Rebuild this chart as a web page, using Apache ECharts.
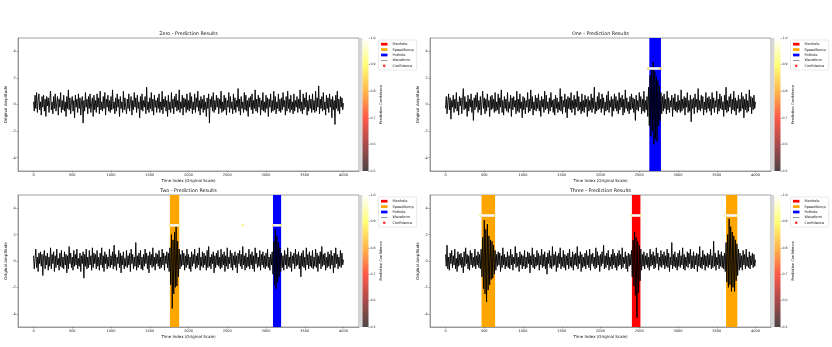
<!DOCTYPE html>
<html><head><meta charset="utf-8">
<script src="https://cdn.jsdelivr.net/npm/echarts@6/dist/echarts.min.js"></script>
<style>html,body{margin:0;padding:0;background:#fff}#c{width:832px;height:347px}</style>
</head><body><div id="c"></div><script>
const panelNames = ['Zero','One','Two','Three'];
const sampleStep = 10;
const wave0 = [
0.2,-0.5,0.7,-0.3,0.9,-0.6,0.3,0.8,-0.4,0.2,-0.8,0.6,-0.2,0.7,-0.5,0.4,-0.9,0.6,-0.1,0.5,
-0.6,0.3,1.0,-0.4,0.2,-0.7,0.6,-0.3,0.8,-0.5,0.1,0.6,-0.8,0.4,-0.2,0.9,-0.6,0.3,-0.4,0.7,
-0.5,0.2,-0.9,0.6,-0.3,1.1,-0.4,0.5,-0.7,0.2,0.6,-0.5,0.3,-1.0,0.7,-0.2,0.4,-0.6,0.8,-0.3,
0.5,-0.8,0.2,0.6,-1.4,0.3,-0.5,0.9,-0.2,0.4,-0.7,0.6,-0.3,0.8,-0.6,0.1,0.5,-0.9,0.7,-0.4,
0.3,-0.6,0.8,-0.2,0.5,-0.7,1.0,-0.4,0.2,-0.5,0.6,-0.3,0.9,-0.8,0.4,-0.2,0.7,-0.5,0.3,-0.6,
0.6,-0.4,1.1,-0.3,0.2,-0.7,0.5,-0.5,0.8,-0.2,0.4,-0.9,0.6,-0.3,0.2,-0.6,1.0,-0.4,0.5,-0.2,
-0.7,0.4,-0.3,0.8,-0.5,0.2,0.6,-0.8,0.3,-0.4,0.9,-0.2,0.5,-0.6,0.7,-0.3,0.2,-1.0,0.6,-0.4,
0.8,-0.5,0.3,-0.2,0.6,-0.7,1.3,-0.4,0.2,-0.6,0.5,-0.3,0.9,-0.5,0.4,-0.8,0.7,-0.2,0.3,-0.6,
0.5,-0.3,0.8,-0.6,0.2,-0.4,1.0,-0.7,0.4,-0.2,0.6,-0.5,0.3,-0.9,0.7,-0.4,0.2,-0.6,0.9,-0.3,
0.4,-0.7,0.6,-0.2,0.8,-0.5,0.3,-0.4,1.1,-0.6,0.2,-0.3,0.7,-0.8,0.5,-0.2,0.4,-0.6,0.8,-0.4,
0.3,-0.5,0.9,-0.3,0.6,-0.7,0.2,-0.4,0.8,-0.6,0.5,-0.2,1.0,-0.5,0.3,-0.8,0.6,-0.3,0.4,-0.6,
0.7,-0.4,0.2,-0.9,0.5,-0.3,0.8,-1.4,0.4,-0.2,0.6,-0.5,0.9,-0.6,0.3,-0.4,0.7,-0.2,0.5,-0.7,
0.4,-0.3,1.0,-0.6,0.2,-0.5,0.7,-0.4,0.5,-0.8,0.3,-0.2,0.9,-0.6,0.6,-0.3,0.2,-0.7,0.8,-0.4,
0.5,-0.6,0.3,-0.2,1.2,-0.5,0.4,-0.8,0.6,-0.3,0.2,-0.6,0.9,-0.4,0.7,-0.5,0.3,-0.9,0.5,-0.2,
0.6,-0.4,0.8,-0.7,0.3,-0.3,1.1,-0.5,0.4,-0.6,0.7,-0.2,0.5,-0.8,0.3,-0.4,0.9,-0.5,0.2,-0.6,
0.7,-0.3,0.5,-0.9,0.4,-0.2,0.8,-0.6,0.3,-0.5,1.0,-0.4,0.6,-0.7,0.2,-0.3,0.8,-0.5,0.4,-0.6,
0.5,-0.4,0.9,-0.2,0.3,-0.8,0.6,-0.5,1.0,-0.3,0.4,-0.6,0.7,-0.4,0.2,-0.7,0.8,-0.5,0.3,-0.2,
0.6,-0.6,0.4,-0.3,1.1,-0.5,0.2,-0.7,0.8,-0.4,0.5,-0.2,0.9,-0.8,0.3,-0.5,0.7,-0.3,0.4,-0.6,
0.8,-0.4,0.3,-0.6,1.0,-0.5,0.5,-0.2,1.4,-0.7,0.4,-0.3,0.6,-0.5,0.9,-0.4,0.2,-0.8,0.7,-0.3,
0.5,-0.6,0.8,-0.2,0.4,-1.0,0.6,-0.4,0.3,-1.5,0.7,-0.3,1.0,-0.5,0.4,-0.7,0.6,-0.2,0.5,-0.4,
0.1];
const wave1 = [
-0.3,0.6,-0.7,0.2,0.8,-0.4,0.5,-1.1,0.3,-0.2,0.7,-0.6,0.4,-0.3,0.9,-0.5,0.2,-0.8,0.6,-0.1,
0.5,-0.7,0.3,1.2,-0.4,0.6,-0.3,0.2,-0.9,0.7,-0.5,0.4,-0.2,0.8,-0.6,0.3,-1.2,0.5,-0.4,0.7,
-0.2,0.9,-0.6,0.3,-0.4,0.6,-0.8,0.2,1.0,-0.3,0.5,-0.7,0.4,-0.5,0.8,-0.2,0.3,-0.9,0.6,-0.4,
0.7,-0.3,0.4,-0.6,0.9,-0.5,0.2,-0.4,0.8,-0.7,0.5,-0.2,1.1,-0.6,0.3,-0.8,0.6,-0.3,0.4,-0.5,
0.9,-0.6,0.2,-0.3,0.7,-0.9,0.5,-0.4,0.6,-0.2,0.3,-0.7,1.0,-0.5,0.4,-0.6,0.8,-0.3,0.2,-1.0,
0.6,-0.4,0.5,-0.7,0.3,-0.2,0.9,-0.6,0.4,-0.5,1.1,-0.3,0.6,-0.8,0.2,-0.4,0.7,-0.5,0.5,-0.3,
0.8,-0.5,0.3,-0.9,0.6,-0.2,0.4,-0.6,1.0,-0.4,0.7,-0.3,0.2,-0.7,0.5,-0.5,0.9,-0.2,0.3,-0.6,
0.4,-0.8,0.7,-0.3,0.5,-0.6,0.2,-0.4,1.2,-0.5,0.6,-0.7,0.3,-0.2,0.8,-0.6,0.4,-1.0,0.6,-0.3,
0.5,-0.4,0.9,-0.6,0.3,-0.3,0.7,-0.8,0.4,-0.2,1.0,-0.5,0.6,-0.4,0.2,-0.7,0.8,-0.5,0.3,-0.6,
0.7,-0.2,0.4,-0.9,0.6,-0.5,0.3,-0.4,0.8,-0.6,0.5,-0.3,1.3,-0.7,0.2,-0.5,0.6,-0.4,0.9,-0.3,
0.4,-0.6,0.8,-0.3,0.5,-0.8,0.2,-0.5,0.7,-0.4,1.0,-0.6,0.3,-0.2,0.6,-0.9,0.4,-0.5,0.8,-0.3,
0.6,-0.5,0.3,-0.7,0.9,-0.4,0.5,-0.2,0.7,-0.8,0.4,-0.6,1.1,-0.3,0.5,-0.5,0.2,-0.7,0.6,-0.4,
0.8,-0.3,0.5,-0.6,0.4,-1.2,0.7,-0.4,0.3,-0.5,0.9,-0.2,0.6,-0.7,0.4,-0.5,1.0,-0.6,0.3,-0.4,
0.6,-0.9,1.3,-1.6,2.2,-2.4,2.8,-2.0,3.2,-3.0,2.5,-2.6,2.1,-2.8,1.8,-1.6,1.4,-1.2,0.9,-0.7,
0.6,-0.5,0.8,-0.3,0.4,-0.7,1.0,-0.4,0.5,-0.6,0.3,-0.2,0.7,-0.9,0.5,-0.4,0.8,-0.5,0.2,-0.6,
0.7,-0.4,0.3,-0.6,1.1,-0.5,0.4,-0.3,0.6,-0.8,0.5,-0.2,0.9,-0.6,0.3,-0.5,0.7,-1.3,0.4,-0.3,
0.5,-0.7,0.8,-0.2,0.4,-0.6,1.2,-0.4,0.3,-0.5,0.7,-0.3,0.6,-0.8,0.2,-0.4,0.9,-0.6,0.5,-0.3,
0.6,-0.5,0.4,-0.8,0.9,-0.3,0.5,-0.6,0.3,-0.2,1.0,-0.7,0.4,-0.5,0.8,-0.3,0.6,-0.4,0.2,-0.9,
0.7,-0.4,1.3,-0.6,0.3,-0.5,0.6,-0.2,0.8,-0.7,0.4,-0.4,1.0,-0.5,0.5,-0.8,0.3,-0.3,0.7,-0.6,
0.4,-0.5,0.9,-0.3,0.6,-1.0,0.4,-0.4,0.8,-0.6,0.3,-0.5,1.1,-0.2,0.6,-0.7,0.5,-0.4,0.7,-0.3,
0.2];
const wave2 = [
0.4,-0.6,0.2,0.9,-0.5,0.3,-0.8,0.6,-0.2,0.7,-0.4,0.5,-1.1,0.3,0.8,-0.6,0.4,-0.3,0.6,-0.7,
0.3,-0.4,1.0,-0.6,0.5,-0.2,0.7,-0.8,0.4,-0.5,0.9,-0.3,0.2,-0.7,0.6,-0.4,0.8,-0.5,0.3,-0.6,
0.7,-0.3,0.5,-0.9,0.4,-0.6,1.1,-0.2,0.6,-0.5,0.3,-0.7,0.8,-0.4,0.5,-0.3,0.9,-0.6,0.2,-0.4,
0.6,-0.8,0.4,-0.2,0.7,-1.3,0.5,-0.4,0.9,-0.6,0.3,-0.5,0.8,-0.3,0.4,-0.7,1.0,-0.5,0.6,-0.2,
0.5,-0.6,0.8,-0.4,0.3,-0.7,0.6,-0.3,1.0,-0.5,0.4,-0.8,0.7,-0.2,0.5,-0.6,0.3,-0.4,0.9,-0.5,
0.4,-0.3,0.7,-0.6,1.2,-0.4,0.5,-0.7,0.3,-0.2,0.8,-0.5,0.6,-0.9,0.4,-0.3,0.7,-0.6,0.2,-0.4,
0.8,-0.5,0.4,-0.3,0.6,-0.8,0.9,-0.2,0.5,-0.6,0.3,-0.4,1.4,-0.7,0.4,-0.5,0.6,-0.3,0.8,-0.6,
0.3,-0.7,0.5,-0.4,0.9,-0.2,0.6,-0.6,0.4,-0.9,0.7,-0.3,0.5,-0.5,1.0,-0.4,0.3,-0.7,0.6,-0.2,
0.5,-0.4,0.8,-0.6,0.3,-0.5,0.9,-0.3,0.6,-0.7,0.4,-0.2,0.7,-0.5,0.6,-0.8,1.0,-1.8,2.0,-3.6,
1.6,-2.5,2.2,-2.0,2.6,-1.9,1.5,-1.2,0.9,-0.6,0.5,-0.4,0.8,-0.3,0.6,-0.7,0.4,-0.5,0.9,-0.3,
0.5,-0.6,0.3,-0.8,0.7,-0.4,0.5,-0.2,0.9,-0.6,0.4,-0.5,0.6,-0.3,1.0,-0.7,0.3,-0.4,0.7,-0.5,
0.6,-0.3,0.4,-0.7,0.8,-0.5,1.1,-0.4,0.3,-0.6,0.5,-0.2,0.7,-0.9,0.4,-0.5,0.6,-0.3,0.8,-0.4,
0.3,-0.6,0.9,-0.5,0.5,-0.3,0.7,-0.8,0.4,-0.4,1.0,-0.6,0.3,-0.2,0.8,-0.5,0.6,-0.7,0.4,-0.3,
0.7,-0.5,0.4,-0.9,0.6,-0.2,0.8,-0.4,0.5,-0.6,1.1,-0.3,0.4,-0.7,0.6,-0.5,0.3,-0.4,0.9,-0.6,
0.5,-0.3,0.7,-0.6,0.4,-0.8,1.0,-0.2,0.6,-0.5,0.3,-0.4,0.8,-0.7,0.5,-0.3,0.7,-0.5,0.4,-0.6,
0.6,-0.4,0.9,-0.5,0.3,-0.7,0.5,-0.3,0.7,-1.0,1.5,-1.8,2.4,-2.1,1.9,-1.6,1.4,-1.2,1.0,-0.8,
0.6,-0.5,0.4,-0.7,0.8,-0.3,0.5,-0.6,1.0,-0.4,0.3,-0.5,0.7,-0.8,0.4,-0.2,0.6,-0.6,0.9,-0.4,
0.5,-0.3,0.7,-0.6,0.4,-1.2,0.6,-0.4,0.8,-0.5,0.3,-0.7,1.0,-0.3,0.5,-0.6,0.7,-0.4,0.4,-0.5,
0.8,-0.6,0.3,-0.4,0.9,-0.5,0.6,-0.8,0.4,-0.2,0.7,-0.6,1.1,-0.4,0.5,-0.3,0.6,-0.7,0.3,-0.5,
0.7,-0.4,0.5,-0.6,0.8,-0.3,0.4,-0.9,0.6,-0.5,1.0,-0.2,0.5,-0.6,0.3,-0.4,0.8,-0.5,0.6,-0.3,
0.1];
const wave3 = [
0.5,-0.4,1.2,-0.6,0.3,-0.7,0.6,-0.2,0.8,-0.5,0.4,-0.3,0.9,-0.6,0.2,-0.8,0.7,-0.4,0.5,-0.3,
0.6,-0.5,0.3,-0.9,0.7,-0.4,1.0,-0.2,0.5,-0.6,0.4,-0.7,0.8,-0.3,0.6,-0.5,0.3,-0.4,0.9,-0.6,
0.4,-0.3,0.7,-0.5,0.5,-0.6,0.9,-1.2,1.8,-2.1,3.1,-2.5,2.4,-3.1,2.8,-2.2,1.9,-1.8,1.6,-1.4,
1.5,-1.3,1.2,-1.0,0.8,-0.7,0.5,-0.4,0.7,-0.3,0.6,-0.8,0.4,-0.5,1.0,-0.3,0.5,-0.6,0.3,-0.4,
0.7,-0.5,0.4,-0.6,0.9,-0.3,0.5,-0.7,0.3,-0.2,1.1,-0.5,0.6,-0.4,0.3,-0.8,0.7,-0.3,0.5,-0.6,
0.4,-0.4,0.8,-0.6,0.3,-0.5,0.7,-0.2,0.6,-0.9,0.4,-0.3,1.0,-0.5,0.5,-0.6,0.3,-0.4,0.8,-0.3,
0.6,-0.7,0.4,-0.3,0.9,-0.5,0.5,-0.4,0.7,-0.6,0.3,-1.0,0.6,-0.2,0.8,-0.5,0.4,-0.6,1.1,-0.4,
0.5,-0.3,0.7,-0.8,0.4,-0.5,0.6,-0.2,1.0,-0.6,0.3,-0.4,0.8,-0.5,0.5,-0.7,0.4,-0.3,0.6,-0.6,
0.9,-0.4,0.3,-0.5,0.7,-0.7,0.5,-0.3,0.6,-0.4,1.1,-0.6,0.4,-0.2,0.7,-0.8,0.5,-0.5,0.3,-0.4,
0.6,-0.6,0.8,-0.3,0.4,-0.5,0.9,-0.7,0.5,-0.2,0.6,-0.4,0.3,-0.6,1.0,-0.5,0.7,-0.3,0.4,-0.8,
0.5,-0.4,0.7,-0.2,1.2,-0.6,0.4,-0.5,0.6,-0.3,0.8,-0.7,0.3,-0.4,0.5,-0.6,0.9,-0.3,0.6,-0.5,
0.4,-0.7,0.6,-0.4,0.8,-0.3,0.5,-0.6,1.0,-0.5,0.3,-0.2,0.7,-0.6,0.4,-0.8,0.6,-0.4,0.5,-0.3,
0.8,-1.2,1.6,-1.9,2.2,-2.6,1.8,-4.3,1.5,-2.4,1.2,-1.5,0.9,-0.7,0.5,-0.4,0.7,-0.6,0.4,-0.3,
0.6,-0.5,0.3,-0.7,0.9,-0.4,0.5,-0.3,0.7,-0.6,0.4,-0.5,1.0,-0.2,0.6,-0.7,0.3,-0.4,0.8,-0.5,
0.5,-0.3,0.7,-0.6,0.4,-0.4,0.9,-0.5,0.6,-0.8,0.3,-0.3,1.4,-0.6,0.5,-0.4,0.7,-0.5,0.3,-0.7,
0.6,-0.4,0.8,-0.5,0.4,-0.3,1.0,-0.6,0.5,-0.7,0.3,-0.4,0.7,-0.5,0.6,-0.2,0.9,-0.6,0.4,-0.5,
0.7,-0.6,0.4,-0.3,0.6,-0.8,0.5,-0.4,1.1,-0.5,0.3,-0.6,0.8,-0.3,0.5,-0.7,0.4,-0.4,0.6,-0.5,
0.5,-0.3,0.9,-0.6,0.4,-0.5,1.5,-0.4,0.6,-0.7,0.3,-0.3,0.8,-0.6,0.5,-0.4,0.7,-0.5,0.4,-0.6,
0.6,-0.8,1.4,-1.6,2.0,-2.0,3.2,-1.8,2.6,-2.3,2.2,-2.0,1.9,-2.3,1.6,-1.5,1.3,-1.1,0.9,-0.7,
0.6,-0.5,0.4,-0.7,0.8,-0.3,0.5,-0.6,0.9,-0.4,0.3,-0.5,0.7,-0.6,0.4,-0.3,0.6,-0.5,0.5,-0.4,
0.1];
const waves = [wave0, wave1, wave2, wave3];

const xTicks = [0,500,1000,1500,2000,2500,3000,3500,4000];
const yTicks = [-4,-2,0,2,4];
const cbarTicks = [0.5,0.6,0.7,0.8,0.9,1.0];

const classNames = ['Manhole','SpeedBump','Pothole'];
const classColors = ['#ff0000','#ffa500','#0000ff'];
const eventPanel = [1,2,2,3,3,3];
const eventClass = ['Pothole','SpeedBump','Pothole','SpeedBump','Manhole','SpeedBump'];
const eventStart = [2630,1760,3090,465,2405,3620];
const eventEnd   = [2780,1880,3195,640,2515,3765];

const confLevel = [0, 2.7, 2.7, 3.45];
const confX = [
  [],
  [2615,2625,2635,2645,2655,2665,2675,2685,2695,2705,2715,2725,2735,2745,2755,2765,2775],
  [1760,1770,1780,1790,1800,1810,1820,1830,1840,1850,1860,1870,1880,
   2700,
   3090,3100,3110,3120,3130,3140,3150,3160,3170,3180,3190],
  [450,460,470,480,490,500,510,520,530,540,550,560,570,580,590,600,610,620,630,640,
   2400,2410,2420,2430,2440,2450,2460,2470,2480,2490,2500,2510,2520,
   3610,3620,3630,3640,3650,3660,3670,3680,3690,3700,3710,3720,3730,3740,3750,3760,3770]
];
const confValue = [
  [],
  [0.82,0.9,0.96,1,1,1,1,1,1,1,1,1,1,0.99,0.97,0.92,0.84],
  [0.9,0.97,1,1,1,1,1,1,1,1,1,0.98,0.93,
   0.88,
   0.84,0.95,1,1,1,1,1,1,1,0.97,0.9],
  [0.88,0.95,0.99,1,1,1,1,1,1,1,1,1,1,1,1,1,1,1,0.97,0.92,
   0.86,0.96,1,1,1,1,1,1,1,1,1,0.97,0.93,
   0.87,0.96,1,1,1,1,1,1,1,1,1,1,1,1,1,0.97,0.92]
];
// hot colormap (semi-transparent over white), from 0.5 to 1.0
const hotColors = ['#4d4646','#a84b4b','#fb5a4a','#ffb74c','#ffff78','#ffffff'];

// ---- layout ----
const gl = [18, 430, 18, 430];
const gt = [38, 38, 195, 195];
const gw = 341;
const gh = [133, 133, 132, 132];
const FONT = 'DejaVu Sans';

const grids = [], xAxes = [], yAxes = [], series = [], titles = [], legends = [];
const scatterIdx = [];

for (let p = 0; p < 4; p++) {
  grids.push({left: gl[p], top: gt[p], width: gw, height: gh[p], show: true,
    borderColor: '#8a8a8a', borderWidth: 0.8, backgroundColor: 'transparent',
    containLabel: false, outerBoundsMode: 'none'});
  grids.push({left: gl[p] + gw + 3.5, top: gt[p], width: 6, height: gh[p], show: false,
    containLabel: false, outerBoundsMode: 'none'});
  const gi = grids.length - 2;
  xAxes.push({gridIndex: gi, type: 'value', min: -200, max: 4200,
    name: 'Time Index (Original Scale)', nameLocation: 'middle', nameGap: 7.5,
    nameTextStyle: {fontSize: 4, color: '#111', fontFamily: FONT},
    axisLine: {show: true, onZero: false, lineStyle: {color: '#8a8a8a', width: 0.8}},
    axisTick: {show: true, length: 1.5, customValues: xTicks, lineStyle: {color: '#555', width: 0.5}},
    axisLabel: {customValues: xTicks, fontSize: 3.5, margin: 2.2, color: '#222', fontFamily: FONT,
      formatter: v => String(v)},
    splitLine: {show: false}});
  yAxes.push({gridIndex: gi, type: 'value', min: -5, max: 5,
    name: 'Original Amplitude', nameLocation: 'middle', nameGap: 7.5, nameRotate: 90,
    nameTextStyle: {fontSize: 4, color: '#111', fontFamily: FONT},
    axisLine: {show: true, onZero: false, lineStyle: {color: '#8a8a8a', width: 0.8}},
    axisTick: {show: true, length: 1.5, customValues: yTicks, lineStyle: {color: '#555', width: 0.5}},
    axisLabel: {customValues: yTicks, fontSize: 3.5, margin: 2.2, color: '#222', fontFamily: FONT,
      formatter: v => String(v)},
    splitLine: {show: false}});
  xAxes.push({gridIndex: gi + 1, type: 'value', min: 0, max: 1, show: false});
  yAxes.push({gridIndex: gi + 1, type: 'value', min: 0.5, max: 1.0, interval: 0.1, position: 'right',
    name: 'Prediction Confidence', nameLocation: 'middle', nameGap: 8.5, nameRotate: 90,
    nameTextStyle: {fontSize: 3.6, color: '#111', fontFamily: FONT},
    axisLine: {show: false, onZero: false},
    axisTick: {show: true, length: 1.3, lineStyle: {color: '#555', width: 0.5}},
    axisLabel: {fontSize: 3.2, margin: 2, color: '#222', fontFamily: FONT,
      formatter: v => v.toFixed(1)},
    splitLine: {show: false}});

  classNames.forEach((cn, ci) => {
    const areas = [];
    for (let e = 0; e < eventPanel.length; e++) {
      if (eventPanel[e] === p && eventClass[e] === cn) {
        areas.push([{xAxis: eventStart[e]}, {xAxis: eventEnd[e]}]);
      }
    }
    series.push({type: 'line', name: cn, xAxisIndex: gi, yAxisIndex: gi, data: [],
      symbol: 'none', z: 1, silent: true,
      itemStyle: {color: classColors[ci]}, lineStyle: {color: classColors[ci]},
      markArea: {silent: true, itemStyle: {color: classColors[ci], opacity: 1},
        label: {show: false}, data: areas}});
  });

  series.push({type: 'line', name: 'Waveform', xAxisIndex: gi, yAxisIndex: gi,
    data: waves[p].map((v, i) => [i * sampleStep, v]),
    symbol: 'none', showSymbol: false, z: 3, silent: true, sampling: null,
    itemStyle: {color: '#000'},
    lineStyle: {color: '#000', width: 0.9, opacity: 1}});

  scatterIdx.push(series.length);
  series.push({type: 'scatter', name: 'Confidence', xAxisIndex: gi, yAxisIndex: gi,
    data: confX[p].map((x, i) => [x, confLevel[p], confValue[p][i]]),
    symbol: 'circle', symbolSize: 2.5, z: 5, silent: true,
    itemStyle: {color: '#ff0000', borderColor: 'rgba(120,120,120,0.25)', borderWidth: 0.25}});

  series.push({type: 'custom', xAxisIndex: gi + 1, yAxisIndex: gi + 1, silent: true, clip: false,
    data: [[0]], z: 1,
    renderItem: (params, api) => {
      const tl = api.coord([0, 1.0]);
      const br = api.coord([1, 0.5]);
      const stops = hotColors.map((c, k) => ({offset: 1 - k / (hotColors.length - 1), color: c}));
      return {type: 'group', children: [
        {type: 'rect', shape: {x: tl[0] - 3.2, y: tl[1], width: 3.2, height: br[1] - tl[1]},
          style: {fill: '#d6d6d6'}},
        {type: 'rect', shape: {x: tl[0], y: tl[1], width: br[0] - tl[0], height: br[1] - tl[1]},
          style: {fill: new echarts.graphic.LinearGradient(0, 0, 0, 1, stops)}}
      ]};
    }});

  titles.push({text: panelNames[p] + ' - Prediction Results', left: gl[p] + gw / 2, top: gt[p] - 6.3,
    textAlign: 'center', padding: 0,
    textStyle: {fontSize: 4.8, fontWeight: 'normal', color: '#111', fontFamily: FONT}});

  legends.push({orient: 'vertical', left: gl[p] + gw + 19.5, top: gt[p] + 2,
    itemWidth: 6.5, itemHeight: 2.7, itemGap: 1.4, padding: [2.2, 3, 2.2, 2.5],
    borderColor: '#d0d0d0', borderWidth: 0.5, borderRadius: 1, backgroundColor: '#fff',
    textStyle: {fontSize: 3.5, color: '#222', fontFamily: FONT},
    selectedMode: false,
    data: [
      {name: 'Manhole', icon: 'rect'},
      {name: 'SpeedBump', icon: 'rect'},
      {name: 'Pothole', icon: 'rect'},
      {name: 'Waveform', icon: 'path://M0,0H20V2.4H0Z', itemStyle: {color: '#7a7a7a', borderWidth: 0}},
      {name: 'Confidence', icon: 'circle', itemStyle: {color: '#ff0000', borderWidth: 0}}
    ]});
}

const chart = echarts.init(document.getElementById('c'), null, {renderer: 'canvas'});
chart.setOption({
  animation: false,
  backgroundColor: '#ffffff',
  textStyle: {fontFamily: FONT},
  title: titles,
  legend: legends,
  grid: grids,
  xAxis: xAxes,
  yAxis: yAxes,
  visualMap: [{type: 'continuous', show: false, min: 0.5, max: 1.0, dimension: 2,
    seriesIndex: scatterIdx, inRange: {color: hotColors}}],
  series: series
});
</script></body></html>
